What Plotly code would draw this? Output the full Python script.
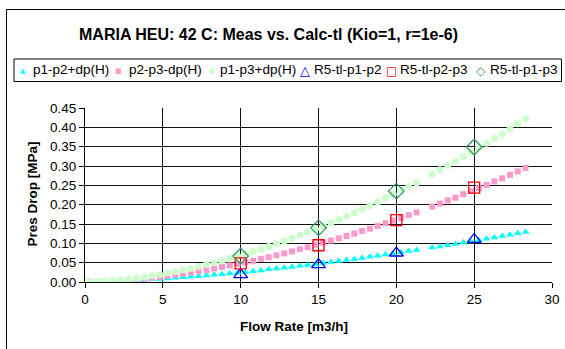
import plotly.graph_objects as go

# ---------------- data ----------------
flow_meas = [0.3, 0.8, 1.3, 1.8, 2.3, 2.8, 3.3, 3.8, 4.3, 4.8, 5.3, 5.8, 6.3, 6.8,
             7.3, 7.8, 8.3, 8.8, 9.3, 9.8, 10.3, 10.8, 11.3, 11.8, 12.3, 12.8, 13.3,
             13.8, 14.3, 14.8, 15.3, 15.8, 16.3, 16.8, 17.3, 17.8, 18.3, 18.8, 19.3,
             19.8, 20.3, 20.8, 21.3, 22.3, 22.8, 23.3, 23.8, 24.3, 24.8, 25.3, 25.8,
             26.3, 26.8, 27.3, 27.8, 28.3]

p1_p2_meas = [0.000, 0.001, 0.001, 0.002, 0.003, 0.003, 0.004, 0.005, 0.007, 0.008,
              0.009, 0.011, 0.012, 0.014, 0.015, 0.017, 0.019, 0.020, 0.022, 0.024,
              0.026, 0.028, 0.030, 0.033, 0.035, 0.037, 0.039, 0.042, 0.044, 0.046,
              0.049, 0.052, 0.054, 0.057, 0.059, 0.062, 0.065, 0.068, 0.071, 0.074,
              0.077, 0.080, 0.083, 0.089, 0.092, 0.095, 0.098, 0.102, 0.105, 0.108,
              0.112, 0.115, 0.119, 0.122, 0.126, 0.129]

p2_p3_meas = [0.001, 0.001, 0.002, 0.003, 0.004, 0.005, 0.007, 0.009, 0.011, 0.013,
              0.016, 0.019, 0.022, 0.025, 0.028, 0.031, 0.035, 0.039, 0.043, 0.047,
              0.051, 0.055, 0.060, 0.064, 0.069, 0.074, 0.079, 0.085, 0.090, 0.096,
              0.102, 0.107, 0.113, 0.119, 0.125, 0.132, 0.138, 0.145, 0.152, 0.159,
              0.166, 0.173, 0.180, 0.195, 0.203, 0.211, 0.218, 0.227, 0.235, 0.243,
              0.251, 0.260, 0.268, 0.277, 0.286, 0.295]

p1_p3_meas = [0.002, 0.002, 0.003, 0.004, 0.006, 0.008, 0.010, 0.013, 0.016, 0.019,
              0.023, 0.027, 0.031, 0.035, 0.040, 0.045, 0.050, 0.055, 0.061, 0.067,
              0.073, 0.079, 0.085, 0.092, 0.099, 0.106, 0.113, 0.121, 0.129, 0.137,
              0.145, 0.153, 0.161, 0.170, 0.179, 0.188, 0.197, 0.207, 0.217, 0.227,
              0.237, 0.247, 0.257, 0.278, 0.290, 0.301, 0.312, 0.324, 0.335, 0.347,
              0.359, 0.371, 0.383, 0.396, 0.409, 0.422]

flow_calc = [10, 15, 20, 25]
r5_p1_p2 = [0.019, 0.045, 0.075, 0.110]
r5_p2_p3 = [0.048, 0.095, 0.160, 0.244]
r5_p1_p3 = [0.067, 0.140, 0.235, 0.349]

x_ticks = [0, 5, 10, 15, 20, 25, 30]
y_ticks = [0.00, 0.05, 0.10, 0.15, 0.20, 0.25, 0.30, 0.35, 0.40, 0.45]

title_text = "MARIA HEU: 42 C: Meas vs. Calc-tl (Kio=1, r=1e-6)"
x_title = "Flow Rate [m3/h]"
y_title = "Pres Drop [MPa]"

series_names = ["p1-p2+dp(H)", "p2-p3-dp(H)", "p1-p3+dp(H)",
                "R5-tl-p1-p2", "R5-tl-p2-p3", "R5-tl-p1-p3"]
series_colors = ["#00FFFF", "#FF99CC", "#CCFFCC", "#0000FF", "#FF0000", "#339966"]
legend_glyphs = ["\u25B2", "\u25A0", "\u25CF", "\u25B3", "\u25A1", "\u25C7"]
legend_glyph_sizes = [7, 7, 7, 13, 12, 12]

# ---------------- layout geometry ----------------
W, H = 565, 349
L, R, T, B = 85, 13, 108, 67
PW = W - L - R
PH = H - T - B


def px(x):
    return (x - L) / PW


def py(y):
    return (H - B - y) / PH


FONT = "Liberation Sans, Arial, sans-serif"

fig = go.Figure()

meas = [p1_p2_meas, p2_p3_meas, p1_p3_meas]
meas_symbols = ["triangle-up", "square", "circle"]
meas_sizes = [7, 6, 7]
for i in range(3):
    fig.add_trace(go.Scatter(
        x=flow_meas, y=meas[i], mode="markers", name=series_names[i],
        marker=dict(symbol=meas_symbols[i], size=meas_sizes[i],
                    color=series_colors[i], line=dict(width=0)),
        showlegend=False))

calc = [r5_p1_p2, r5_p2_p3, r5_p1_p3]
calc_symbols = ["triangle-up-open", "square-open", "diamond-open"]
calc_sizes = [12, 11, 12]
for i in range(3):
    fig.add_trace(go.Scatter(
        x=flow_calc, y=calc[i], mode="markers", name=series_names[i + 3],
        marker=dict(symbol=calc_symbols[i], size=calc_sizes[i],
                    color=series_colors[i + 3], line=dict(width=1.3, color=series_colors[i + 3])),
        showlegend=False))

annotations = []
# title
annotations.append(dict(text="<b>" + title_text + "</b>", x=px(268.5), y=py(34),
                        xref="paper", yref="paper", xanchor="center", yanchor="middle",
                        showarrow=False, font=dict(size=16, color="black", family=FONT)))
# axis titles
annotations.append(dict(text="<b>" + x_title + "</b>", x=px(294), y=py(326.5),
                        xref="paper", yref="paper", xanchor="center", yanchor="middle",
                        showarrow=False, font=dict(size=13.5, color="black", family=FONT)))
annotations.append(dict(text="<b>" + y_title + "</b>", x=px(32), y=py(194.5),
                        xref="paper", yref="paper", xanchor="center", yanchor="middle",
                        textangle=-90, showarrow=False,
                        font=dict(size=13.5, color="black", family=FONT)))

# legend (symbols + labels)
glyph_x = [22.7, 118, 211.7, 304.7, 391.7, 481]
text_x = [30.7, 126.7, 218.3, 311.7, 397.7, 488.3]
leg_y = 70
for i in range(6):
    annotations.append(dict(text=legend_glyphs[i], x=px(glyph_x[i]), y=py(leg_y + 0.5),
                            xref="paper", yref="paper", xanchor="center", yanchor="middle",
                            showarrow=False,
                            font=dict(size=legend_glyph_sizes[i], color=series_colors[i],
                                      family="DejaVu Sans")))
    annotations.append(dict(text=series_names[i], x=px(text_x[i]), y=py(leg_y),
                            xref="paper", yref="paper", xanchor="left", yanchor="middle",
                            showarrow=False,
                            font=dict(size=13.5, color="black", family=FONT)))

shapes = [
    # legend box
    dict(type="rect", xref="paper", yref="paper", x0=px(14), x1=px(561.5),
         y0=py(59), y1=py(81.5), line=dict(color="black", width=1), fillcolor="rgba(0,0,0,0)"),
    # outer chart border (left and top visible)
    dict(type="line", xref="paper", yref="paper", x0=px(6.5), x1=px(6.5),
         y0=py(9.5), y1=py(360), line=dict(color="black", width=1)),
    dict(type="line", xref="paper", yref="paper", x0=px(6.5), x1=px(580),
         y0=py(9.5), y1=py(9.5), line=dict(color="black", width=1)),
]

fig.update_layout(
    width=W, height=H,
    margin=dict(l=L, r=R, t=T, b=B, autoexpand=False),
    paper_bgcolor="white", plot_bgcolor="white",
    font=dict(family=FONT, size=13.5, color="black"),
    showlegend=False,
    annotations=annotations,
    shapes=shapes,
)

fig.update_xaxes(range=[0, 30], tickvals=x_ticks, ticktext=[str(v) for v in x_ticks],
                 automargin=False,
                 showgrid=True, gridcolor="#111111", gridwidth=1,
                 showline=True, linecolor="black", linewidth=1,
                 ticks="outside", ticklen=5, tickcolor="black",
                 zeroline=False, tickfont=dict(size=13.5, color="black"))
fig.update_yaxes(range=[0, 0.45], tickvals=y_ticks, ticktext=["%.2f" % v for v in y_ticks],
                 automargin=False,
                 showgrid=True, gridcolor="#111111", gridwidth=1,
                 showline=True, linecolor="black", linewidth=1,
                 ticks="outside", ticklen=5, tickcolor="black",
                 zeroline=False, tickfont=dict(size=13.5, color="black"))

fig.write_html("out.html",
               config={"displayModeBar": False},
               post_script="document.body.style.margin='0';document.body.style.padding='0';"
                           "document.body.style.overflow='hidden';")
